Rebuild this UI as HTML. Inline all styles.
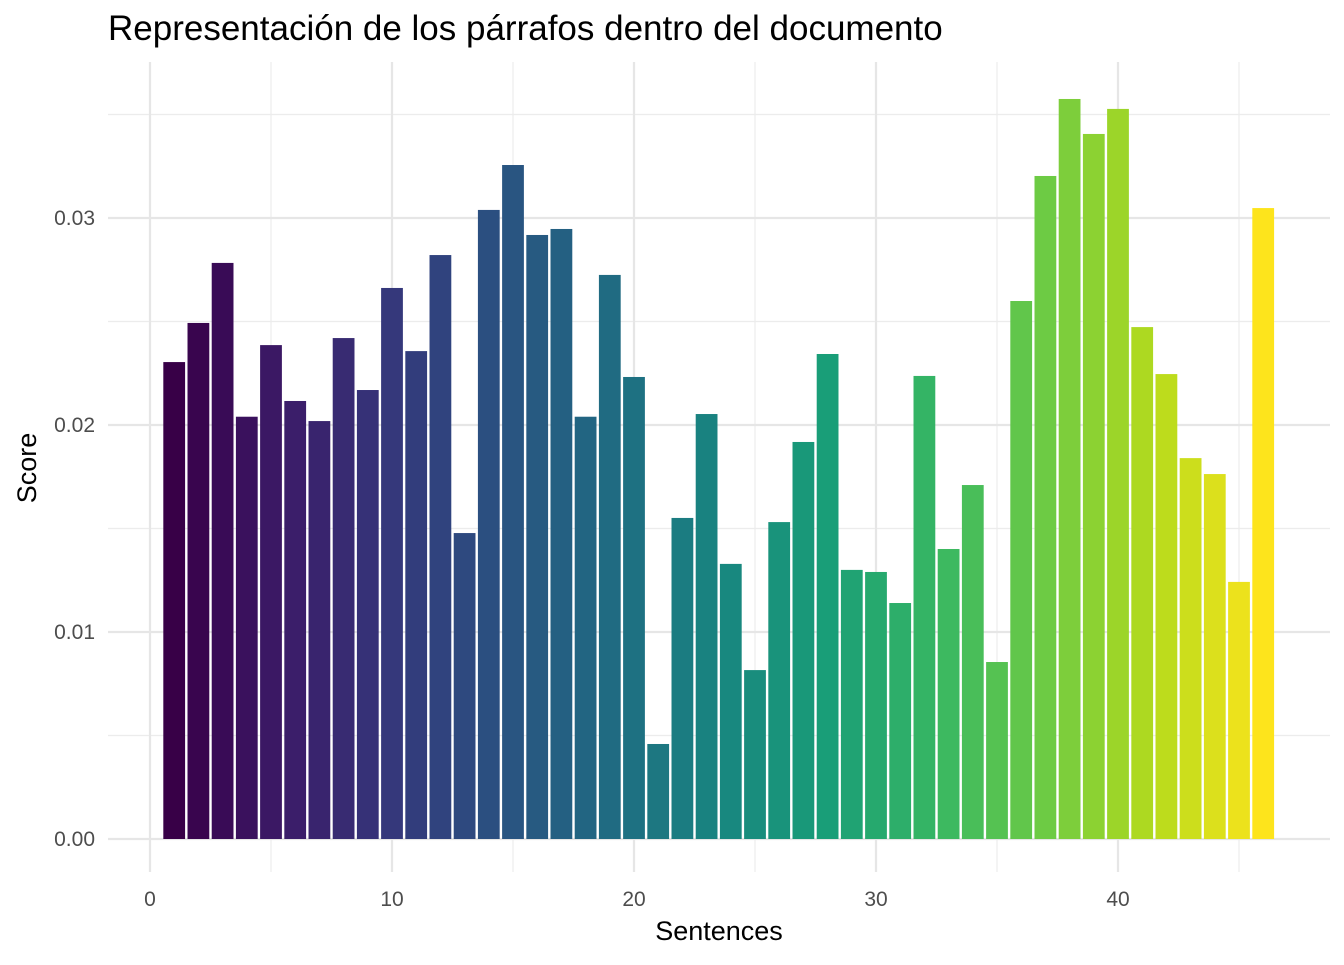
<!DOCTYPE html>
<html><head><meta charset="utf-8"><style>
body{margin:0;background:#fff;}
svg text{font-family:"Liberation Sans",sans-serif;}
</style></head><body>
<svg id="chart" width="1344" height="960">
<text x="108" y="40" font-size="35" fill="#000">Representación de los párrafos dentro del documento</text>
<g id="grid"></g><g id="bars"></g><g id="axes"></g>
<text x="719" y="940" font-size="27" text-anchor="middle" fill="#000">Sentences</text>
<text transform="translate(36,468) rotate(-90)" font-size="27" text-anchor="middle" fill="#000">Score</text>
</svg>
<script>
const sentences=[];for(let i=1;i<=46;i++)sentences.push(i);
const scores=[0.02304,0.02493,0.02783,0.0204,0.02386,0.02116,0.02019,0.0242,0.02169,0.02662,0.02357,0.02821,0.01478,0.03039,0.03256,0.02918,0.02947,0.0204,0.02725,0.02232,0.00459,0.01551,0.02053,0.01329,0.00816,0.01531,0.01918,0.02343,0.013,0.0129,0.0114,0.02237,0.01401,0.0171,0.00855,0.02599,0.03203,0.03575,0.03406,0.03527,0.02473,0.02246,0.0184,0.01763,0.01242,0.03048];
const xTicks=[0,10,20,30,40];
const yTicks=[0,0.01,0.02,0.03];
const yTickLabels=["0.00","0.01","0.02","0.03"];
const NS="http://www.w3.org/2000/svg";
const X=v=>150+v*24.2;
const Y=v=>839-v*20700;
const L=108,R=1330,T=62,B=872;
const stops=["#440154","#482475","#414487","#355f8d","#2a788e","#21918c","#22a884","#44bf70","#7ad151","#bddf26","#fde725"];
function hex(h){return [1,3,5].map(i=>parseInt(h.substr(i,2),16));}
function vir(t){const p=t*10,i=Math.min(9,Math.floor(p)),f=p-i,a=hex(stops[i]),b=hex(stops[i+1]);
return "rgb("+a.map((c,k)=>Math.round(255*Math.pow((c+(b[k]-c)*f)/255,1.15))).join(",")+")";}
function mk(tag,attrs,parent){const e=document.createElementNS(NS,tag);for(const k in attrs)e.setAttribute(k,attrs[k]);document.getElementById(parent).appendChild(e);return e;}
for(let v=5;v<=45;v+=10){const l=mk("line",{x1:X(v),x2:X(v),y1:T,y2:B,stroke:"#ececec","stroke-width":1.2},"grid");

}
for(let v=0.005;v<0.036;v+=0.01){const l=mk("line",{x1:L,x2:R,y1:Y(v),y2:Y(v),stroke:"#ececec","stroke-width":1.2},"grid");

}
xTicks.forEach(v=>{const l=mk("line",{x1:X(v),x2:X(v),y1:T,y2:B,stroke:"#e6e6e6","stroke-width":2.2},"grid");


const t=mk("text",{x:X(v),y:906,"font-size":21,"text-anchor":"middle",fill:"#4d4d4d"},"axes");t.textContent=v;

});
yTicks.forEach((v,i)=>{const l=mk("line",{x1:L,x2:R,y1:Y(v),y2:Y(v),stroke:"#e6e6e6","stroke-width":2.2},"grid");


const t=mk("text",{x:95,y:Y(v)+7,"font-size":21,"text-anchor":"end",fill:"#4d4d4d"},"axes");t.textContent=yTickLabels[i];

});
sentences.forEach((s,i)=>{const v=scores[i];
const r=mk("rect",{x:X(s-0.45),width:24.2*0.9,y:Y(v),height:Y(0)-Y(v),fill:vir((s-1)/45)},"bars");

});
</script>
</body></html>
